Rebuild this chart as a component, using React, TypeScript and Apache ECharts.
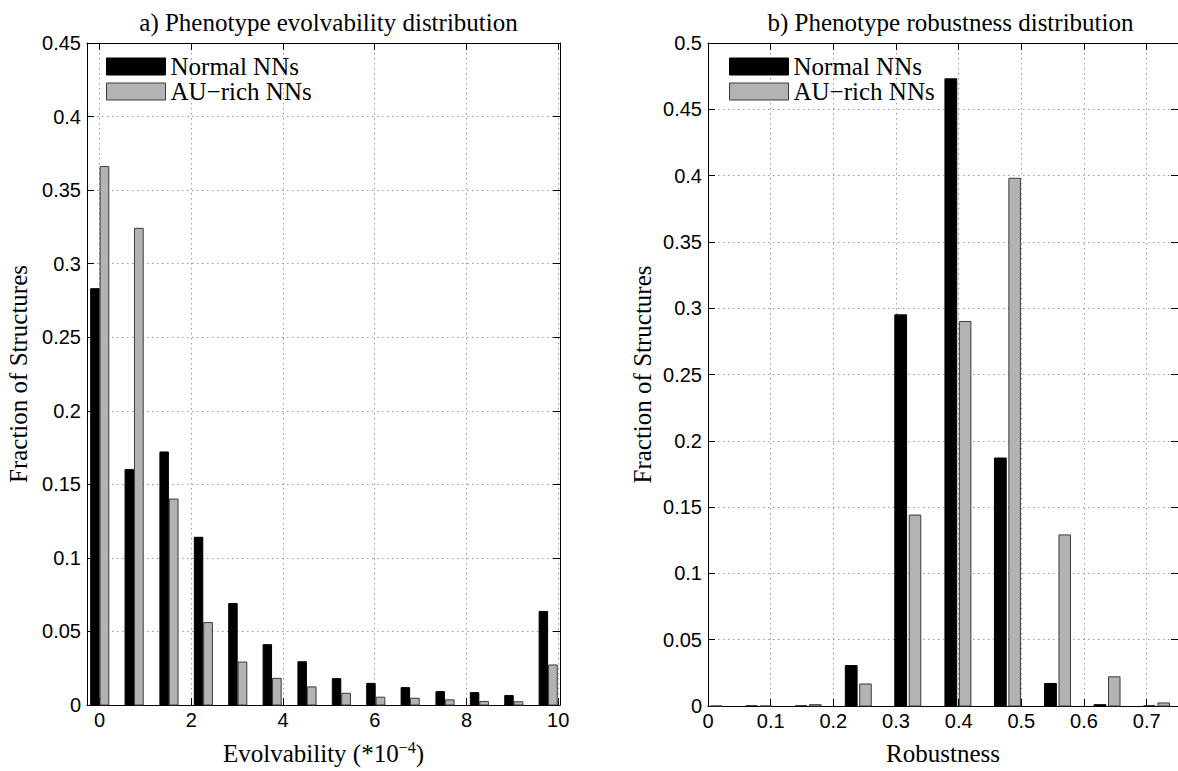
import React, { useEffect, useRef } from 'react';
import * as echarts from 'echarts';

// ---- data ----
const evoBins = [0, 0.75, 1.51, 2.26, 3.01, 3.76, 4.52, 5.27, 6.02, 6.77, 7.53, 8.28, 9.03, 9.78];
const evoNormal = [0.283, 0.16, 0.172, 0.114, 0.069, 0.041, 0.0294, 0.0179, 0.0147, 0.0118, 0.0091, 0.0084, 0.0064, 0.0636];
const evoAU = [0.366, 0.324, 0.14, 0.056, 0.0292, 0.0181, 0.0123, 0.008, 0.0053, 0.0046, 0.0035, 0.0024, 0.0022, 0.0272];

const robBins = [0.002, 0.081, 0.16, 0.24, 0.319, 0.399, 0.478, 0.558, 0.637, 0.716];
const robNormal = [0, 0, 0, 0.0305, 0.295, 0.473, 0.187, 0.017, 0.001, 0];
const robAU = [0, 0, 0.001, 0.0166, 0.144, 0.29, 0.398, 0.129, 0.022, 0.0023];

const seriesNames = ['Normal NNs', 'AU\u2212rich NNs'];
const titles = ['a) Phenotype evolvability distribution', 'b) Phenotype robustness distribution'];
const yName = 'Fraction of Structures';
const robName = 'Robustness';

const SERIF = '"Liberation Serif", "Times New Roman", serif';
const SANS = '"Liberation Sans", Arial, sans-serif';

const BLACK = { fill: '#000000', stroke: '#000000' };
const GRAY = { fill: '#b3b3b3', stroke: '#3a3a3a' };

function barSeries(name: string, bins: number[], vals: number[], idx: number, o0: number, o1: number, st: any) {
  return {
    type: 'custom',
    name,
    xAxisIndex: idx,
    yAxisIndex: idx,
    data: bins.map((b, i) => [b, vals[i]]),
    renderItem: (params: any, api: any) => {
      const c = api.value(0);
      const v = api.value(1);
      const p0 = api.coord([c + o0, v]);
      const p1 = api.coord([c + o1, 0]);
      const shape = echarts.graphic.clipRectByRect(
        { x: p0[0], y: p0[1], width: p1[0] - p0[0], height: Math.max(p1[1] - p0[1], 0.01) },
        { x: params.coordSys.x, y: params.coordSys.y - 1, width: params.coordSys.width, height: params.coordSys.height + 2 }
      );
      if (!shape) return null;
      return { type: 'rect', shape, style: { fill: st.fill, stroke: st.stroke, lineWidth: 1 } };
    },
  };
}

const gridLine = { show: true, lineStyle: { color: '#9a9a9a', type: [1.5, 3.5], width: 1 } };
const axLine = { show: true, onZero: false, lineStyle: { color: '#000', width: 1 } };
const tickIn = { show: true, inside: true, length: 7, lineStyle: { color: '#000', width: 1 } };
const tickLabel = { color: '#000', fontFamily: SANS, fontSize: 20 };
const serifText = { fontFamily: SERIF, fontSize: 25, color: '#000', fontWeight: 'normal' };

function legendFor(left: number) {
  return {
    left,
    top: 54,
    padding: 0,
    orient: 'vertical',
    itemWidth: 59,
    itemHeight: 17,
    itemGap: 0,
    selectedMode: false,
    textStyle: { fontFamily: SERIF, fontSize: 25, color: '#000' },
    data: [
      { name: seriesNames[0], icon: 'rect', itemStyle: { color: BLACK.fill, borderColor: BLACK.stroke, borderWidth: 1 } },
      { name: seriesNames[1], icon: 'rect', itemStyle: { color: GRAY.fill, borderColor: GRAY.stroke, borderWidth: 1 } },
    ],
  };
}

export default function App() {
  const ref = useRef<HTMLDivElement>(null);
  useEffect(() => {
    document.body.style.margin = '0';
    const chart = echarts.init(ref.current!, undefined, { renderer: 'svg' });
    const option: any = {
      animation: false,
      backgroundColor: '#fff',
      title: [
        { text: titles[0], left: 323.5, textAlign: 'center', top: 5, textStyle: serifText },
        { text: titles[1], left: 945.5, textAlign: 'center', top: 5, textStyle: serifText },
      ],
      legend: [legendFor(106), legendFor(729)],
      grid: [
        { left: 87, top: 43, width: 473, height: 667 },
        { left: 708, top: 43, width: 475, height: 667 },
      ],
      xAxis: [
        {
          type: 'value', gridIndex: 0, position: 'bottom', min: -0.275, max: 10.04, splitNumber: 5,
          axisLine: axLine, axisTick: tickIn, splitLine: gridLine,
          axisLabel: { ...tickLabel, margin: 5, showMinLabel: false, showMaxLabel: false },
          name: '{a|Evolvability (*10}{s|\u22124}{a|)}', nameLocation: 'middle', nameGap: 34,
          nameTextStyle: {
            rich: {
              a: { fontFamily: SERIF, fontSize: 25, color: '#000', verticalAlign: 'bottom', lineHeight: 27 },
              s: { fontFamily: SERIF, fontSize: 16, color: '#000', verticalAlign: 'top', lineHeight: 16 },
            },
          },
        },
        {
          type: 'value', gridIndex: 0, position: 'top', min: -0.275, max: 10.04, splitNumber: 5,
          axisLine: axLine, axisTick: tickIn, splitLine: { show: false }, axisLabel: { show: false },
        },
        {
          type: 'value', gridIndex: 1, position: 'bottom', min: 0, max: 0.75, interval: 0.1,
          axisLine: axLine, axisTick: tickIn, splitLine: gridLine,
          axisLabel: { ...tickLabel, margin: 5, showMaxLabel: false },
          name: robName, nameLocation: 'middle', nameGap: 35,
          nameTextStyle: serifText,
        },
        {
          type: 'value', gridIndex: 1, position: 'top', min: 0, max: 0.75, interval: 0.1,
          axisLine: axLine, axisTick: tickIn, splitLine: { show: false }, axisLabel: { show: false },
        },
      ],
      yAxis: [
        {
          type: 'value', gridIndex: 0, position: 'left', min: 0, max: 0.45, interval: 0.05,
          axisLine: axLine, axisTick: tickIn, splitLine: gridLine, axisLabel: { ...tickLabel, margin: 6 },
          name: yName, nameLocation: 'middle', nameGap: 56,
          nameTextStyle: serifText,
        },
        {
          type: 'value', gridIndex: 0, position: 'right', min: 0, max: 0.45, interval: 0.05,
          axisLine: axLine, axisTick: tickIn, splitLine: { show: false }, axisLabel: { show: false },
        },
        {
          type: 'value', gridIndex: 1, position: 'left', min: 0, max: 0.5, interval: 0.05,
          axisLine: axLine, axisTick: tickIn, splitLine: gridLine, axisLabel: { ...tickLabel, margin: 6 },
          name: yName, nameLocation: 'middle', nameGap: 53,
          nameTextStyle: serifText,
        },
        {
          type: 'value', gridIndex: 1, position: 'right', min: 0, max: 0.5, interval: 0.05,
          axisLine: axLine, axisTick: tickIn, splitLine: { show: false }, axisLabel: { show: false },
        },
      ],
      series: [
        { ...barSeries(seriesNames[0], evoBins, evoNormal, 0, -0.195, -0.01, BLACK), xAxisIndex: 0, yAxisIndex: 0 },
        { ...barSeries(seriesNames[1], evoBins, evoAU, 0, 0.01, 0.2, GRAY), xAxisIndex: 0, yAxisIndex: 0 },
        { ...barSeries(seriesNames[0], robBins, robNormal, 2, -0.0209, -0.0021, BLACK), xAxisIndex: 2, yAxisIndex: 2 },
        { ...barSeries(seriesNames[1], robBins, robAU, 2, 0.0021, 0.0205, GRAY), xAxisIndex: 2, yAxisIndex: 2 },
      ],
    };
    chart.setOption(option);
    return () => chart.dispose();
  }, []);
  return <div ref={ref} style={{ width: 1178, height: 771 }} />;
}
